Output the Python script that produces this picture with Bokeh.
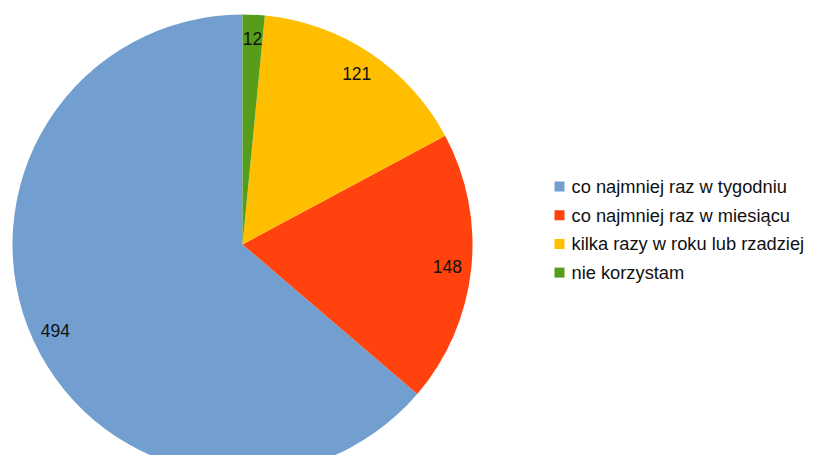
import math
from bokeh.plotting import figure
from bokeh.models import ColumnDataSource, Range1d
from bokeh.core.properties import value
from bokeh.embed import file_html
from bokeh.resources import INLINE

# Data
categories = ["co najmniej raz w tygodniu", "co najmniej raz w miesiącu",
              "kilka razy w roku lub rzadziej", "nie korzystam"]
counts = [494, 148, 121, 12]
colors = ["#729fcf", "#ff420e", "#ffbf00", "#579d1c"]

# Layout (pixel-like data units)
W, H = 813, 455
cx, cy, R = 242, 211, 230
label_r = 206

total = sum(counts)
starts, ends, lx, ly = [], [], [], []
a = math.pi / 2
for c in counts:
    span = 2 * math.pi * c / total
    starts.append(a)
    ends.append(a + span)
    mid = a + span / 2
    lx.append(cx + label_r * math.cos(mid))
    ly.append(cy + label_r * math.sin(mid))
    a += span

src = ColumnDataSource(dict(start=starts, end=ends, color=colors,
                            lx=lx, ly=ly, txt=[str(c) for c in counts]))

p = figure(width=W, height=H, output_backend="svg", toolbar_location=None,
           x_range=Range1d(0, W), y_range=Range1d(0, H), min_border=0)
p.axis.visible = False
p.grid.visible = False
p.outline_line_color = None
p.background_fill_color = "white"

p.wedge(x=cx, y=cy, radius=R, start_angle="start", end_angle="end",
        fill_color="color", line_color=None, source=src)

p.text(x="lx", y="ly", text="txt", source=src, text_align="center",
       text_baseline="middle", text_font=value("Liberation Sans"),
       text_font_size="17.5px", text_color="#111111")

# Legend
leg_x = 559
leg_y0 = 269
leg_dy = 28.7
leg_ys = [leg_y0 - i * leg_dy for i in range(len(categories))]
leg_src = ColumnDataSource(dict(x=[leg_x] * len(categories), y=leg_ys,
                                tx=[leg_x + 12] * len(categories),
                                color=colors, label=categories))
p.rect(x="x", y="y", width=10, height=10, fill_color="color",
       line_color=None, source=leg_src)
p.text(x="tx", y="y", text="label", source=leg_src, text_align="left",
       text_baseline="middle", text_font=value("Liberation Sans"),
       text_font_size="18.3px", text_color="#111111")

open("out.html", "w").write(file_html(p, INLINE))
